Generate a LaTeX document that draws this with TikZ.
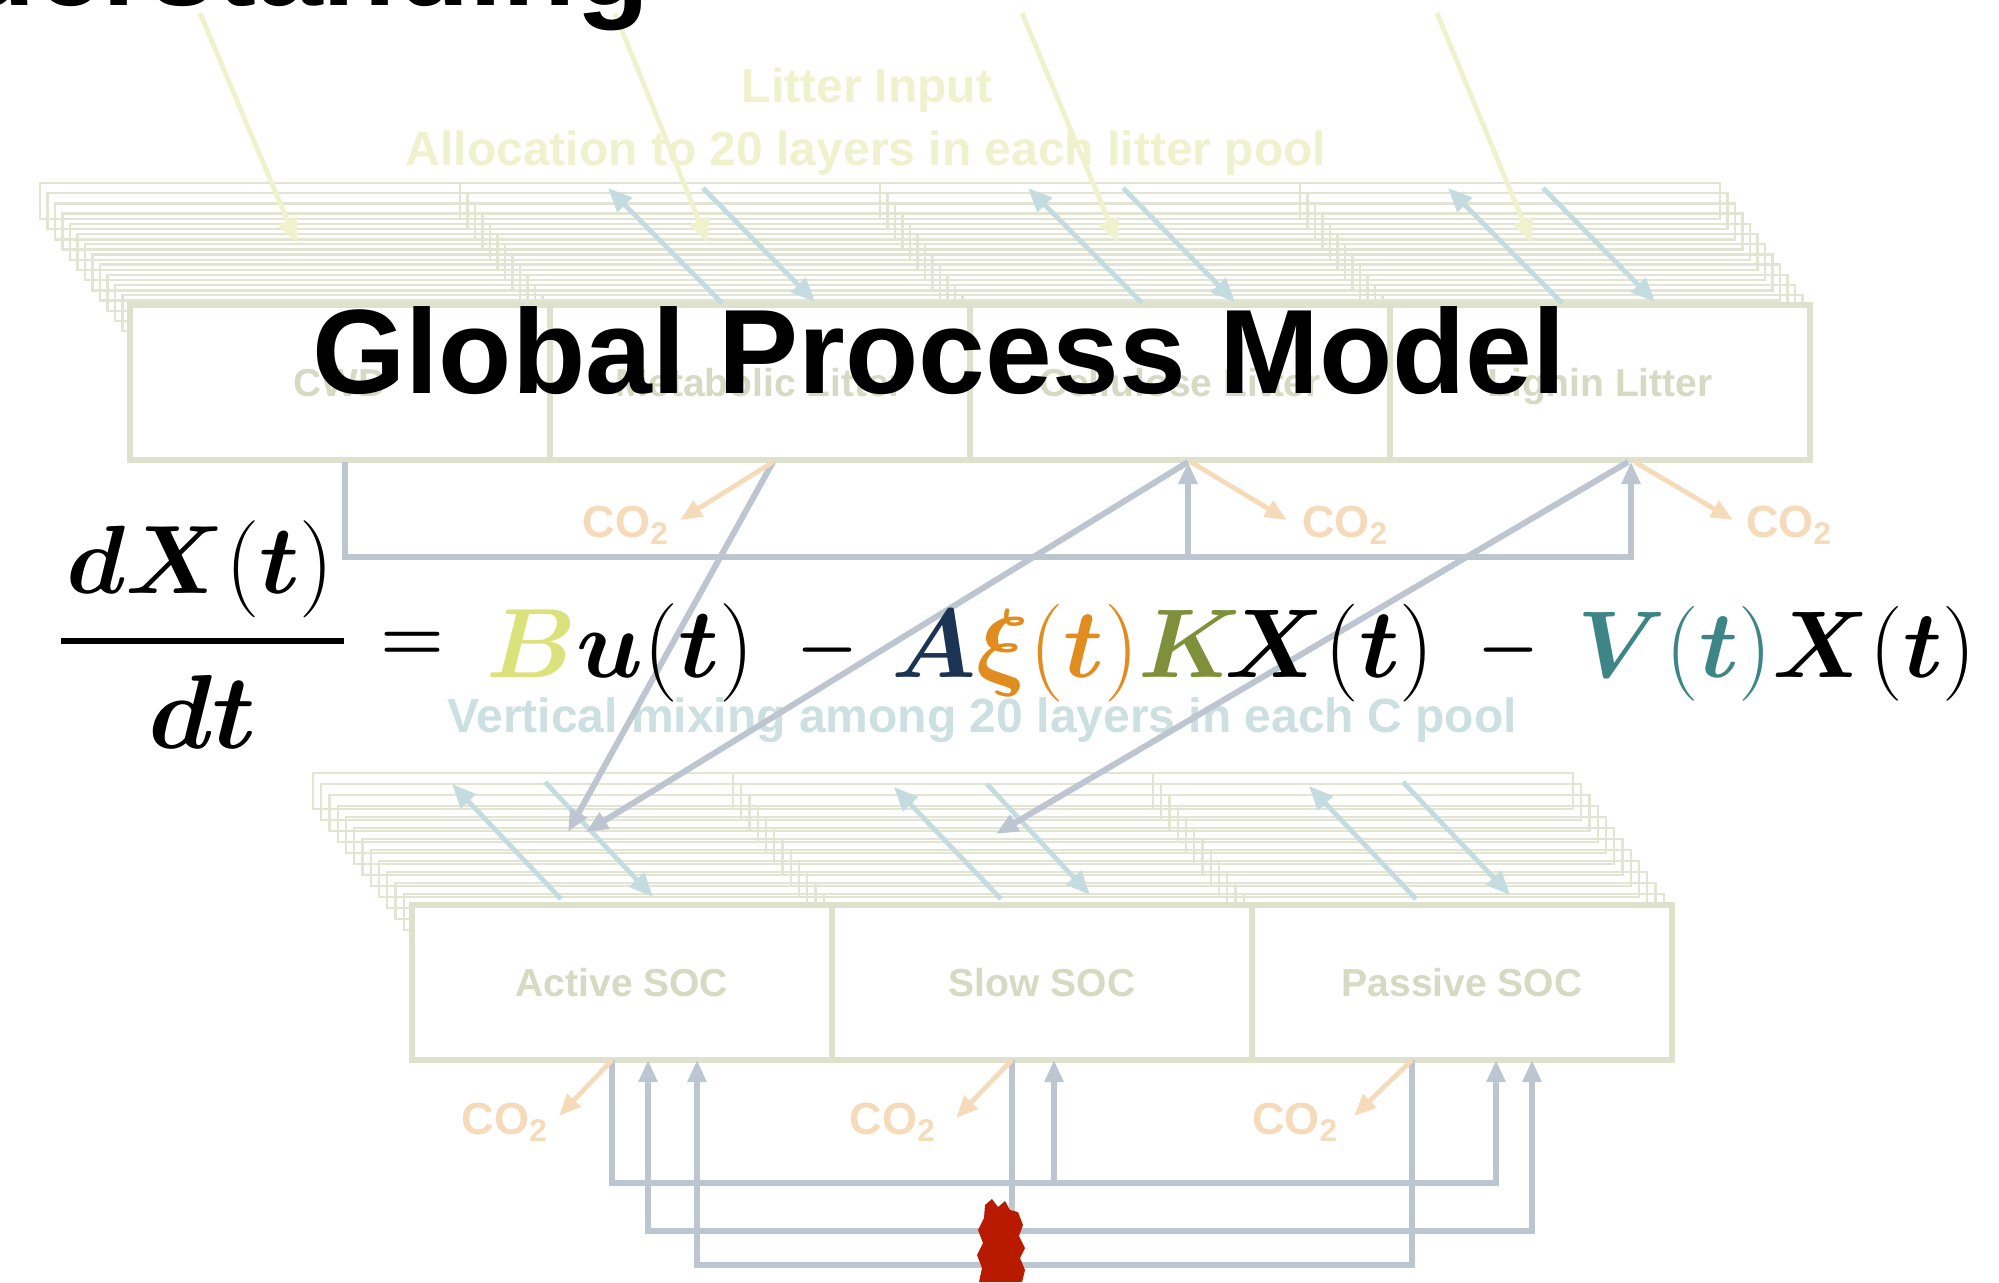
\documentclass[tikz,border=0pt]{standalone}
\usepackage[no-math]{fontspec}
\setmainfont{Liberation Sans}
\usepackage{amsmath}
\usepackage{bm}
\usetikzlibrary{arrows.meta,calc}

\definecolor{boxline}{RGB}{222,225,203}
\definecolor{layerline}{RGB}{226,229,210}
\definecolor{boxtext}{RGB}{214,218,194}
\definecolor{inputcol}{RGB}{240,241,205}
\definecolor{mixcol}{RGB}{196,220,223}
\definecolor{mixtext}{RGB}{204,223,225}
\definecolor{flowcol}{RGB}{188,197,208}
\definecolor{co2col}{RGB}{246,219,186}
\definecolor{blotred}{RGB}{184,26,0}
\definecolor{eqB}{RGB}{219,226,124}
\definecolor{eqA}{RGB}{28,52,84}
\definecolor{eqXi}{RGB}{225,140,30}
\definecolor{eqK}{RGB}{126,145,58}
\definecolor{eqV}{RGB}{62,133,136}

\tikzset{
  layer/.style={draw=layerline, line width=1.2pt},
  cellbox/.style={draw=boxline, fill=white, line width=3pt, minimum width=210pt,
    minimum height=77.5pt, inner sep=0pt, text=boxtext,
    font=\fontsize{19.5}{22}\selectfont\bfseries, text height=14pt, text depth=0pt},
  flow/.style={draw=flowcol, line width=3pt},
  flowtip/.style={flow, -{Triangle[length=11pt,width=9pt]}},
  mix/.style={draw=mixcol, line width=2.4pt, -{Triangle[length=12pt,width=10pt]}},
  feed/.style={draw=inputcol, line width=2.4pt, -{Triangle[length=12pt,width=10pt]}},
  co2arrow/.style={draw=co2col, line width=2.4pt, -{Triangle[length=11pt,width=9pt]}},
  co2label/.style={text=co2col, font=\fontsize{22.5}{26}\selectfont\bfseries, inner sep=0pt, anchor=base},
  caption/.style={font=\fontsize{24}{28}\selectfont\bfseries, inner sep=0pt, anchor=base},
  headline/.style={font=\fontsize{60}{70}\selectfont\bfseries, inner sep=0pt, anchor=base},
  eqpart/.style={inner sep=0pt, anchor=base west, font=\fontsize{50}{60}\selectfont},
}

\begin{document}
\begin{tikzpicture}[x=0.5pt, y=-0.5pt]
\useasboundingbox (0,0) rectangle (1999,1282);
\clip (0,0) rectangle (1999,1282);

% ---------- litter layers (back to front) ----------
\foreach \k in {0,...,11}{
  \pgfmathsetmacro\lx{40+7.5*\k}
  \pgfmathsetmacro\ty{183+10.2*\k}
  \draw[layer] (\lx,\ty) rectangle ++(1680,36);
  \foreach \d in {420,840,1260}
    \draw[layer] (\lx+\d,\ty) -- ++(0,36);
}
\node[cellbox] (cwd)  at (340,382.5)  {CWD};
\node[cellbox] (meta) at (760,382.5)  {Metabolic Litter};
\node[cellbox] (cell) at (1180,382.5) {Cellulose Litter};
\node[cellbox] (lig)  at (1600,382.5) {Lignin Litter};

% ---------- soil organic carbon layers ----------
\foreach \k in {0,...,11}{
  \pgfmathsetmacro\lx{313+8.25*\k}
  \pgfmathsetmacro\ty{773+11*\k}
  \draw[layer] (\lx,\ty) rectangle ++(1260,36);
  \foreach \d in {420,840}
    \draw[layer] (\lx+\d,\ty) -- ++(0,36);
}
\node[cellbox] (act)  at (622,982.5)  {Active SOC};
\node[cellbox] (slow) at (1042,982.5) {Slow SOC};
\node[cellbox] (pas)  at (1462,982.5) {Passive SOC};

% ---------- captions ----------
\node[caption, text=inputcol] (litin) at (867,102) {Litter Input};
\node[caption, text=inputcol] (alloc) at (866,165) {Allocation to 20 layers in each litter pool};
\node[caption, text=mixtext] (vmix) at (982,732) {Vertical mixing among 20 layers in each C pool};

% ---------- litter input arrows ----------
\coordinate (f1s) at (200,13);  \coordinate (f1e) at (297,243);
\coordinate (f2s) at (615,13);  \coordinate (f2e) at (708,243);
\coordinate (f3s) at (1022,13); \coordinate (f3e) at (1118,243);
\coordinate (f4s) at (1437,13); \coordinate (f4e) at (1532,243);
\foreach \i in {1,...,4} \draw[feed] (f\i s) -- (f\i e);

% ---------- vertical mixing arrows in litter ----------
\foreach \L [count=\i] in {550,970,1390}{
  \coordinate (lu\i a) at (\L+172,303); \coordinate (lu\i b) at (\L+58,188);
  \coordinate (ld\i a) at (\L+153,188); \coordinate (ld\i b) at (\L+265,302);
  \draw[mix] (lu\i a) -- (lu\i b);
  \draw[mix] (ld\i a) -- (ld\i b);
}

% ---------- vertical mixing arrows in soil ----------
\coordinate (su1a) at (561,899);  \coordinate (su1b) at (452,784);
\coordinate (sd1a) at (545,782);  \coordinate (sd1b) at (653,897);
\coordinate (su2a) at (1001,899); \coordinate (su2b) at (894,787);
\coordinate (sd2a) at (987,784);  \coordinate (sd2b) at (1090,895);
\coordinate (su3a) at (1416,899); \coordinate (su3b) at (1309,786);
\coordinate (sd3a) at (1403,782); \coordinate (sd3b) at (1510,895);
\foreach \i in {1,2,3}{
  \draw[mix] (su\i a) -- (su\i b);
  \draw[mix] (sd\i a) -- (sd\i b);
}

% ---------- transfers out of the litter pools ----------
\coordinate (cwdout)  at (345,462);
\coordinate (metaout) at (773,462);
\coordinate (cellin)  at (1188,462);
\coordinate (cellco)  at (1191,462);
\coordinate (ligin)   at (1631,462);
\coordinate (ligout)  at (1628,462);
\coordinate (ligco)   at (1635,462);
\coordinate (lrow)    at (0,557);
\coordinate (actinA)  at (568,832);
\coordinate (actinB)  at (586,832);
\coordinate (slowtop) at (996,834);

\draw[flowtip] (cwdout) |- (ligin |- lrow) -- (ligin);
\draw[flowtip] (cellin |- lrow) -- (cellin);
\draw[flowtip] (metaout) -- (actinA);
\draw[flowtip] (cellin) -- (actinB);
\draw[flowtip] (ligout) -- (slowtop);

\coordinate (co2m) at (680,520);
\coordinate (co2c) at (1287,520);
\coordinate (co2l) at (1733,520);
\draw[co2arrow] (metaout) -- (co2m);
\draw[co2arrow] (cellco) -- (co2c);
\draw[co2arrow] (ligco) -- (co2l);
\node[co2label] (lbm) at (626,537)  {CO\textsubscript{2}};
\node[co2label] (lbc) at (1345,537) {CO\textsubscript{2}};
\node[co2label] (lbl) at (1789,537) {CO\textsubscript{2}};

% ---------- transfers among the soil pools ----------
\coordinate (actout)  at (612,1060);
\coordinate (slowout) at (1012,1060);
\coordinate (pasout)  at (1412,1060);
\coordinate (slowin)  at (1054,1060);
\coordinate (pasinA)  at (1496,1060);
\coordinate (pasinB)  at (1532,1060);
\coordinate (actinC)  at (648,1060);
\coordinate (actinD)  at (697,1060);
\coordinate (rowA) at (0,1183);
\coordinate (rowB) at (0,1231);
\coordinate (rowC) at (0,1265);

\draw[flowtip] (actout) |- (pasinA |- rowA) -- (pasinA);
\draw[flowtip] (slowin |- rowA) -- (slowin);
\draw[flowtip] (slowout) |- (actinC |- rowB) -- (actinC);
\draw[flowtip] (slowout |- rowB) -| (pasinB);
\draw[flowtip] (pasout) |- (actinD |- rowC) -- (actinD);

\coordinate (co2a) at (559,1116);
\coordinate (co2s) at (956,1118);
\coordinate (co2p) at (1354,1116);
\draw[co2arrow] (actout) -- (co2a);
\draw[co2arrow] (slowout) -- (co2s);
\draw[co2arrow] (pasout) -- (co2p);
\node[co2label] (lba) at (505,1134)  {CO\textsubscript{2}};
\node[co2label] (lbs) at (893,1134)  {CO\textsubscript{2}};
\node[co2label] (lbp) at (1295,1134) {CO\textsubscript{2}};

% ---------- red mark at the lower edge ----------
\fill[blotred] (985,1205) -- (992,1199) -- (998,1207) -- (1005,1201) -- (1010,1210)
  -- (1018,1212) -- (1023,1225) -- (1019,1236) -- (1025,1248) -- (1020,1258)
  -- (1025,1270) -- (1022,1282) -- (979,1282) -- (982,1268) -- (977,1255)
  -- (983,1243) -- (978,1230) -- (984,1218) -- cycle;

% ---------- headings ----------
\node[headline, anchor=base east] (ttl) at (650,5) {Understanding};
\node[headline] (gpm) at (939,393) {Global Process Model};

% ---------- model equation ----------
\node[eqpart] (num) at (66,593) {\resizebox{134pt}{!}{$\bm{dX}(\bm{t})$}};
\draw[line width=3pt] (61,641) -- (344,641);
\node[eqpart] (den) at (148,748) {\resizebox{54pt}{!}{$\bm{dt}$}};
\node[eqpart, anchor=center] (eqs) at (412,646) {\resizebox{32pt}{!}{$\bm{=}$}};
\node[eqpart] (tB) at (486,677)
  {\resizebox{134pt}{!}{$\textcolor{eqB}{\bm{B}}\bm{u}(\bm{t})$}};
\node[eqpart, anchor=center] (mA) at (827,650) {\resizebox{31pt}{!}{$\bm{-}$}};
\node[eqpart] (tA) at (891,677)
  {\resizebox{271.5pt}{!}{$\textcolor{eqA}{\bm{A}}\textcolor{eqXi}{\bm{\xi}(\bm{t})}\textcolor{eqK}{\bm{K}}\!\bm{X}(\bm{t})$}};
\node[eqpart, anchor=center] (mB) at (1508,650) {\resizebox{31pt}{!}{$\bm{-}$}};
\node[eqpart] (tV) at (1577,677)
  {\resizebox{199.5pt}{!}{$\textcolor{eqV}{\bm{V}(\bm{t})}\bm{X}(\bm{t})$}};
\end{tikzpicture}
\end{document}
